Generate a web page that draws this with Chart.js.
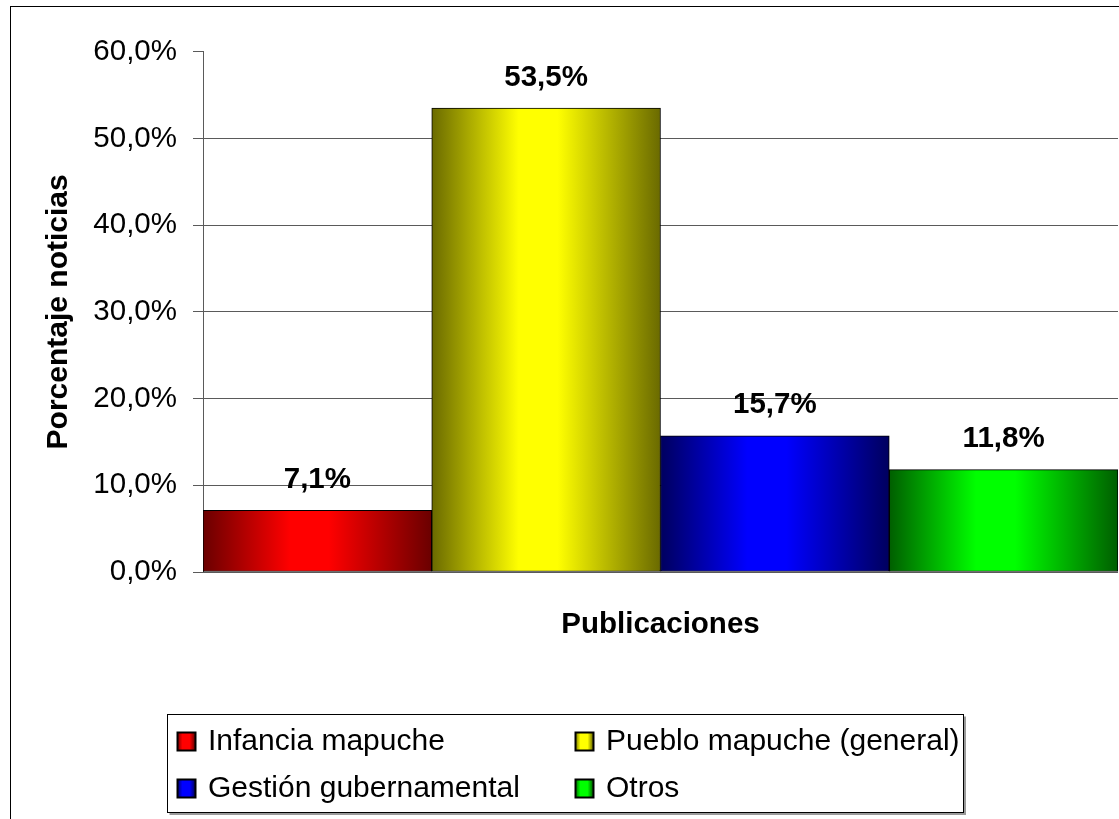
<!DOCTYPE html>
<html>
<head>
<meta charset="utf-8">
<script src="https://cdn.jsdelivr.net/npm/chart.js@4/dist/chart.umd.min.js"></script>
<style>
  html, body { margin: 0; padding: 0; background: #fff; }
  canvas { display: block; }
</style>
</head>
<body>
<canvas id="c" width="1119" height="819"></canvas>
<script>
// ---- data ----
const categories = ['Publicaciones'];
const seriesLabels = ['Infancia mapuche', 'Pueblo mapuche (general)', 'Gestión gubernamental', 'Otros'];
const seriesValues = [7.1, 53.5, 15.7, 11.8];
const yTickValues = [0, 10, 20, 30, 40, 50, 60];
const brightColors = ['#ff0000', '#ffff00', '#0000ff', '#00ff00'];
const darkColors = ['#6a0000', '#6a6a00', '#00005e', '#005e00'];

const FONT = '"Liberation Sans", Arial, sans-serif';
const fmt = v => v.toFixed(1).replace('.', ',') + '%';

function barGradient(ctx) {
  const chart = ctx.chart;
  const i = ctx.datasetIndex;
  const xs = chart.scales && chart.scales.x;
  if (!chart.chartArea || !xs) return brightColors[i];
  const w = (xs.right - xs.left) / seriesValues.length;
  const x0 = xs.left + i * w;
  const g = chart.ctx.createLinearGradient(x0, 0, x0 + w, 0);
  g.addColorStop(0, darkColors[i]);
  g.addColorStop(0.38, brightColors[i]);
  g.addColorStop(0.55, brightColors[i]);
  g.addColorStop(1, darkColors[i]);
  return g;
}

const datasets = seriesLabels.map((lab, i) => ({
  label: lab,
  data: [seriesValues[i]],
  backgroundColor: barGradient,
  borderColor: '#000',
  borderWidth: 1,
  borderSkipped: false,
  categoryPercentage: 1.0,
  barPercentage: 1.0
}));

const framePlugin = {
  id: 'frame',
  beforeDraw(chart) {
    const c = chart.ctx;
    c.save();
    c.fillStyle = '#fff';
    c.fillRect(0, 0, chart.width, chart.height);
    c.strokeStyle = '#000';
    c.lineWidth = 1;
    c.strokeRect(10.5, 6.5, chart.width + 20, chart.height + 20);
    c.restore();
  }
};

const valueLabels = {
  id: 'valueLabels',
  afterDatasetsDraw(chart) {
    const c = chart.ctx;
    c.save();
    c.font = 'bold 29.5px ' + FONT;
    c.fillStyle = '#000';
    c.textAlign = 'center';
    c.textBaseline = 'alphabetic';
    chart.data.datasets.forEach((ds, i) => {
      const meta = chart.getDatasetMeta(i);
      meta.data.forEach((el, j) => {
        c.fillText(fmt(ds.data[j]), el.x, el.y - 22.5);
      });
    });
    c.restore();
  }
};

const boxLegend = {
  id: 'boxLegend',
  afterDraw(chart) {
    const c = chart.ctx;
    const bx = 167.5, by = 714.5, bw = 796, bh = 98;
    c.save();
    // shadow
    c.strokeStyle = '#9a9a9a';
    c.lineWidth = 2;
    c.beginPath();
    c.moveTo(bx + 2, by + bh + 1.5);
    c.lineTo(bx + bw + 1.5, by + bh + 1.5);
    c.lineTo(bx + bw + 1.5, by + 2);
    c.stroke();
    c.fillStyle = '#fff';
    c.fillRect(bx, by, bw, bh);
    c.strokeStyle = '#000';
    c.lineWidth = 1;
    c.strokeRect(bx, by, bw, bh);
    const colX = [177, 575];
    const rowY = [741, 788];
    c.font = '30px ' + FONT;
    c.textBaseline = 'middle';
    c.textAlign = 'left';
    chart.data.datasets.forEach((ds, i) => {
      const x = colX[i % 2], y = rowY[Math.floor(i / 2)];
      const s = 18;
      const g = c.createLinearGradient(x, 0, x + s, 0);
      g.addColorStop(0, darkColors[i]);
      g.addColorStop(0.3, brightColors[i]);
      g.addColorStop(0.7, brightColors[i]);
      g.addColorStop(1, darkColors[i]);
      c.fillStyle = g;
      c.fillRect(x + 0.5, y - s / 2 + 0.5, s, s);
      c.strokeStyle = '#000';
      c.lineWidth = 2;
      c.strokeRect(x + 0.5, y - s / 2 + 0.5, s, s);
      c.fillStyle = '#000';
      c.fillText(ds.label, x + 31, y + 1);
    });
    c.restore();
  }
};

new Chart(document.getElementById('c'), {
  type: 'bar',
  data: { labels: categories, datasets },
  options: {
    responsive: false,
    animation: false,
    devicePixelRatio: 1,
    layout: { padding: { top: 51.7, left: 20, right: 1, bottom: 176 } },
    plugins: { legend: { display: false }, tooltip: { enabled: false } },
    scales: {
      x: {
        grid: { display: false },
        border: { display: false },
        ticks: { display: false },
        title: {
          display: true,
          text: 'Publicaciones',
          color: '#000',
          font: { family: FONT, size: 29.5, weight: 'bold' },
          padding: { top: 0, bottom: 0 }
        },
        afterFit(scale) { scale.height = 71; }
      },
      y: {
        min: 0,
        max: 60,
        afterBuildTicks(scale) { scale.ticks = yTickValues.map(v => ({ value: v })); },
        ticks: {
          color: '#000',
          padding: 16,
          font: { family: FONT, size: 29.5 },
          callback: v => fmt(v)
        },
        grid: {
          color: ctx => (ctx.tick && ctx.tick.value === 60) ? 'rgba(0,0,0,0)' : '#5a5a5a',
          tickColor: '#5a5a5a',
          tickLength: 10,
          lineWidth: 1
        },
        border: { display: true, color: '#5a5a5a', width: 1 },
        title: {
          display: true,
          text: 'Porcentaje noticias',
          color: '#000',
          font: { family: FONT, size: 30, weight: 'bold' },
          padding: { top: 20.6, bottom: 0 }
        },
        afterFit(scale) { scale.width = 183; }
      }
    }
  },
  plugins: [framePlugin, valueLabels, boxLegend]
});
</script>
</body>
</html>
